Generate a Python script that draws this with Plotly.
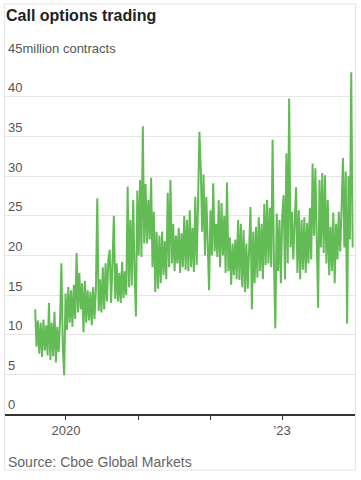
import pandas as pd
import plotly.graph_objects as go

# Weekly readings (alternating highs / lows of the daily band), million contracts
start_date = "2019-07-29"
values = [
    13.2, 8.5, 11.8, 7.6, 11.5, 7.2, 11.9, 8.0, 11.2, 7.4,
    14.0, 6.8, 11.5, 7.3, 12.9, 6.5, 11.0, 7.8, 11.6, 19.0,
    8.5, 4.9, 15.2, 10.6, 16.0, 11.5, 15.6, 11.0, 16.3, 12.0,
    20.3, 12.8, 17.8, 13.2, 16.5, 10.3, 16.8, 11.5, 15.6, 11.8,
    15.4, 11.2, 16.0, 12.0, 15.8, 27.2, 13.0, 17.0, 12.8, 18.5,
    13.2, 19.0, 14.2, 19.4, 20.7, 14.0, 19.0, 25.0, 14.5, 19.0,
    14.2, 17.8, 14.0, 19.2, 14.6, 18.0, 15.0, 28.7, 16.0, 24.5,
    16.2, 27.0, 18.0, 12.3, 28.2, 20.0, 29.5, 19.8, 36.3, 21.5,
    29.0, 21.5, 27.0, 22.0, 29.8, 18.5, 25.5, 15.4, 23.0, 15.8,
    22.5, 16.5, 23.0, 17.5, 21.8, 17.0, 27.9, 18.5, 29.5, 19.0,
    24.0, 18.0, 22.5, 19.0, 23.5, 17.8, 22.8, 18.5, 25.0, 18.2,
    24.5, 18.0, 25.7, 18.5, 23.5, 17.9, 27.4, 18.8, 26.5, 35.6,
    30.8, 23.0, 30.2, 20.0, 27.4, 19.4, 15.6, 25.7, 20.0, 29.1,
    20.5, 24.0, 19.8, 27.0, 18.5, 26.6, 20.0, 25.0, 17.8, 29.2,
    18.0, 22.3, 16.3, 21.5, 17.5, 22.0, 17.0, 24.5, 16.9, 24.0,
    16.0, 23.2, 15.4, 21.5, 15.8, 20.7, 26.1, 13.2, 23.0, 16.5,
    23.6, 17.2, 24.8, 18.0, 24.0, 17.0, 26.5, 18.8, 27.0, 19.0,
    26.0, 18.5, 34.6, 19.0, 10.8, 25.3, 18.0, 24.5, 16.5, 25.0,
    27.6, 17.0, 32.9, 19.0, 39.8, 21.0, 25.5, 19.5, 24.5, 28.6,
    17.8, 25.7, 17.0, 24.5, 18.2, 24.8, 17.8, 24.1, 19.0, 26.0,
    19.5, 31.6, 22.5, 31.0, 22.0, 13.4, 29.5, 21.0, 30.4, 20.3,
    30.1, 19.0, 27.0, 17.5, 23.6, 18.0, 25.4, 16.5, 24.0, 19.5,
    25.5, 20.5, 26.0, 32.3, 21.0, 30.6, 11.4, 30.0, 22.0, 43.1, 21.0,
]
dates = pd.date_range(start_date, periods=len(values), freq="7D")

y_ticks = [0, 5, 10, 15, 20, 25, 30, 35, 40, 45]
y_ticktext = ["0", "5", "10", "15", "20", "25", "30", "35", "40", "45million contracts"]
x_ticks = ["2020-01-01", "2021-01-01", "2022-01-01", "2023-01-01"]
x_ticktext = ["2020", "", "", "\u201923"]

FONT = "Liberation Sans, Arial, sans-serif"

fig = go.Figure()
fig.add_trace(go.Scatter(
    x=dates, y=values, mode="lines",
    line=dict(color="#62bb55", width=2),
    hoverinfo="skip", showlegend=False,
))

fig.update_layout(
    width=361, height=480,
    margin=dict(l=5, r=6, t=57, b=66),
    paper_bgcolor="white", plot_bgcolor="white",
    font=dict(family=FONT, color="#555"),
    hovermode=False,
    title=dict(
        text="<b>Call options trading</b>",
        font=dict(family=FONT, size=16, color="#222"),
        x=6 / 361, xanchor="left", xref="container",
        y=1 - 15 / 480, yanchor="middle", yref="container",
    ),
    xaxis=dict(
        type="date",
        range=["2019-02-26", "2024-01-06"],
        tickvals=x_ticks, ticktext=x_ticktext,
        ticks="outside", ticklen=4, tickcolor="#333", tickwidth=1,
        showline=True, linecolor="#333", linewidth=1.5,
        showgrid=False, zeroline=False,
        tickfont=dict(family=FONT, size=13, color="#555"),
    ),
    yaxis=dict(
        range=[0, 45.03],
        tickvals=y_ticks, ticktext=y_ticktext,
        ticklabelposition="inside top",
        ticklabeloverflow="allow",
        ticks="", showline=False, zeroline=False,
        showgrid=True, gridcolor="#e6e6e6", gridwidth=1,
        tickfont=dict(family=FONT, size=13, color="#555"),
    ),
    annotations=[dict(
        text="Source: Cboe Global Markets",
        xref="paper", yref="paper",
        x=(6 - 5) / 350, y=(414 - 462) / 357,
        xanchor="left", yanchor="middle", showarrow=False,
        font=dict(family=FONT, size=14, color="#666"),
    )],
    shapes=[dict(
        type="rect", xref="paper", yref="paper",
        x0=-0.5 / 350, x1=350.5 / 350,
        y0=(414 - 470) / 357, y1=(414 - 4) / 357,
        line=dict(color="#e6e6e6", width=1), layer="below",
    )],
)

fig.write_html(
    "out.html",
    config={"displayModeBar": False, "staticPlot": True},
    post_script="document.body.style.margin='0';document.body.style.overflow='hidden';",
)
